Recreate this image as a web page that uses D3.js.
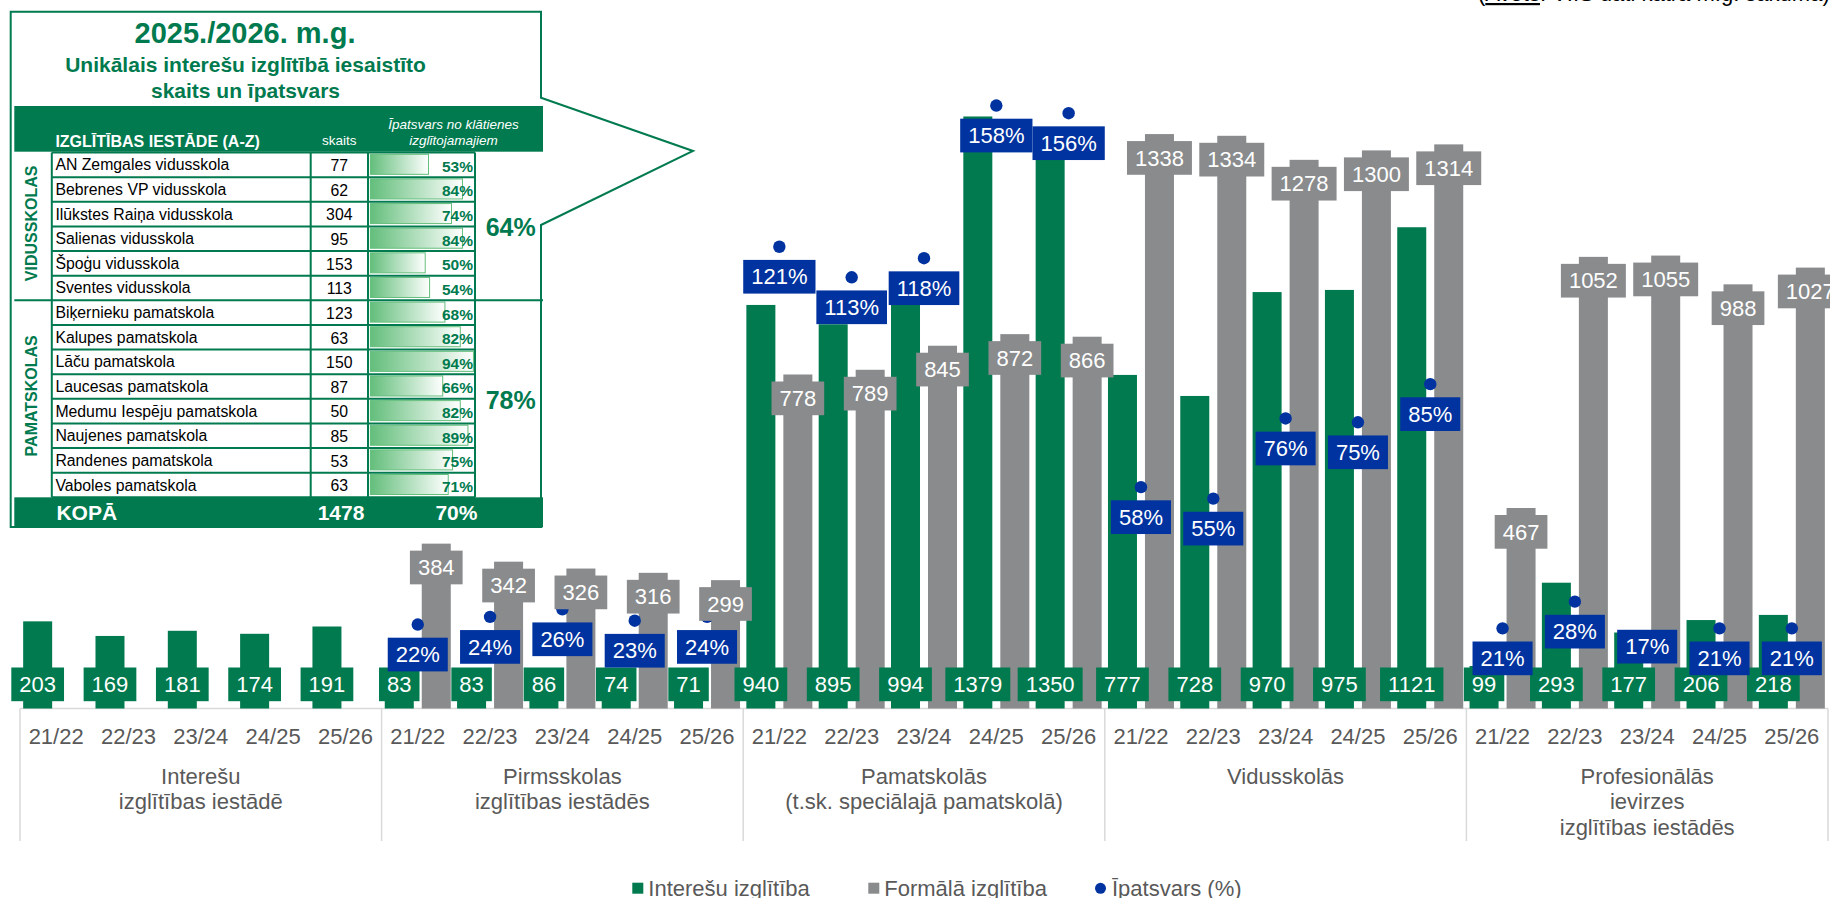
<!DOCTYPE html>
<html><head><meta charset="utf-8">
<script src="https://cdn.jsdelivr.net/npm/d3@7"></script>
<style>
body{margin:0;background:#fff;}
svg{display:block;font-family:"Liberation Sans",Arial,Helvetica,sans-serif;}
</style>
</head><body>
<svg id="chart" width="1830" height="898"></svg>
<script>
// ---------- DATA ----------
const years = ["21/22","22/23","23/24","24/25","25/26"];
const groupLabels = [
  ["Interešu","izglītības iestādē"],
  ["Pirmsskolas","izglītības iestādēs"],
  ["Pamatskolās","(t.sk. speciālajā pamatskolā)"],
  ["Vidusskolās"],
  ["Profesionālās","ievirzes","izglītības iestādēs"]
];
// Interešu izglītība (green), per group, per year
const interesuIzglitiba = [
  [203,169,181,174,191],
  [83,83,86,74,71],
  [940,895,994,1379,1350],
  [777,728,970,975,1121],
  [99,293,177,206,218]
];
// Formālā izglītība (gray)
const formalaIzglitiba = [
  [null,null,null,null,null],
  [384,342,326,316,299],
  [778,789,845,872,866],
  [1338,1334,1278,1300,1314],
  [467,1052,1055,988,1027]
];
// Īpatsvars (%)
const ipatsvars = [
  [null,null,null,null,null],
  [22,24,26,23,24],
  [121,113,118,158,156],
  [58,55,76,75,85],
  [21,28,17,21,21]
];
const legendLabels = ["Interešu izglītība","Formālā izglītība","Īpatsvars (%)"];

// Table data
const tableTitle = "2025./2026. m.g.";
const tableSubtitle = ["Unikālais interešu izglītībā iesaistīto","skaits un īpatsvars"];
const vidusSchools = ["AN Zemgales vidusskola","Bebrenes VP vidusskola","Ilūkstes Raiņa vidusskola","Salienas vidusskola","Špoģu vidusskola","Sventes vidusskola"];
const vidusCounts = [77,62,304,95,153,113];
const vidusShares = [53,84,74,84,50,54];
const pamatSchools = ["Biķernieku pamatskola","Kalupes pamatskola","Lāču pamatskola","Laucesas pamatskola","Medumu Iespēju pamatskola","Naujenes pamatskola","Randenes pamatskola","Vaboles pamatskola"];
const pamatCounts = [123,63,150,87,50,85,53,63];
const pamatShares = [68,82,94,66,82,89,75,71];
const groupShares = [64,78];
const totalCount = 1478;
const totalShare = 70;

// ---------- STYLE ----------
const GREEN = "#007A4E", GRAY = "#898B8D", BLUE = "#0033A0", AXIS = "#D9D9D9", TXT = "#595959";
const svg = d3.select("#chart");

// ---------- SCALES ----------
const baseY = 708.5, topY = 21.6;
const yL = d3.scaleLinear().domain([0,1600]).range([baseY, topY]);
const yR = d3.scaleLinear().domain([0,180]).range([baseY, topY]);
const gIdx = d3.range(groupLabels.length);
const x0 = d3.scaleBand().domain(gIdx).range([20,1828]);
const x1 = d3.scaleBand().domain(years).range([0, x0.bandwidth()]);
const x2 = d3.scaleBand().domain(["green","gray"]).range([0, x1.bandwidth()]).paddingInner(0.216).paddingOuter(0.0855);

const data = [];
gIdx.forEach(g => years.forEach((yr,i) => {
  data.push({g, yr, green: interesuIzglitiba[g][i], gray: formalaIzglitiba[g][i], pct: ipatsvars[g][i]});
}));
const slotX = d => x0(d.g) + x1(d.yr);
const cx = (d,k) => slotX(d) + x2(k) + x2.bandwidth()/2;
const slotC = d => slotX(d) + x1.bandwidth()/2;

// ---------- AXIS ----------
const ax = svg.append("g");
ax.append("line").attr("x1",x0.range()[0]).attr("x2",x0.range()[1]).attr("y1",baseY).attr("y2",baseY)
  .attr("stroke",AXIS).attr("stroke-width",1.5);
[...gIdx, gIdx.length].forEach(g => {
  const xx = g < gIdx.length ? x0(g) : x0.range()[1];
  ax.append("line").attr("x1",xx).attr("x2",xx).attr("y1",baseY).attr("y2",841)
    .attr("stroke",AXIS).attr("stroke-width",1.5);
});
ax.selectAll("text.yr").data(data).join("text").attr("class","yr")
  .attr("x", d => slotC(d)).attr("y",736).attr("dy","0.35em")
  .attr("text-anchor","middle").attr("font-size",22).attr("fill",TXT).text(d => d.yr);
gIdx.forEach(g => {
  groupLabels[g].forEach((ln,j) => {
    ax.append("text").attr("text-anchor","middle").attr("font-size",22).attr("fill",TXT)
      .attr("x", x0(g)+x0.bandwidth()/2).attr("y", 776 + j*25.7).attr("dy","0.35em").text(ln);
  });
});

// ---------- BARS ----------
const bw = x2.bandwidth();
svg.append("g").selectAll("rect").data(data).join("rect")
  .attr("x", d => slotX(d)+x2("green")).attr("width", bw)
  .attr("y", d => yL(d.green)).attr("height", d => baseY - yL(d.green)).attr("fill",GREEN);
svg.append("g").selectAll("rect").data(data.filter(d => d.gray != null)).join("rect")
  .attr("x", d => slotX(d)+x2("gray")).attr("width", bw)
  .attr("y", d => yL(d.gray)).attr("height", d => baseY - yL(d.gray)).attr("fill",GRAY);
const pdata = data.filter(d => d.pct != null);
svg.append("g").selectAll("circle").data(pdata).join("circle")
  .attr("cx", d => slotC(d)).attr("cy", d => yR(d.pct)).attr("r",6.2).attr("fill",BLUE);

// ---------- LABELS ----------
function boxLabel(parent, x, yc, txt, fill){
  const g = parent.append("g");
  const r = g.append("rect").attr("fill",fill);
  const t = g.append("text").attr("x",x).attr("y",yc).attr("dy","0.35em").attr("text-anchor","middle")
    .attr("font-size",22).attr("fill","#fff").text(txt);
  const w = t.node().getComputedTextLength() + 16;
  r.attr("x", x - w/2).attr("y", yc - 16.85).attr("width", w).attr("height", 33.7);
}
const LH = 33.7;
const lg = svg.append("g"), lgy = svg.append("g"), lp = svg.append("g");
data.forEach(d => boxLabel(lg, cx(d,"green"), baseY - 7.3 - LH/2, d.green, GREEN));
data.filter(d => d.gray != null).forEach(d => boxLabel(lgy, cx(d,"gray"), yL(d.gray) + 7 + LH/2, d.gray, GRAY));
pdata.forEach(d => {
  const yd = yR(d.pct);
  const below = yd + 30;
  const yc = (below + LH/2 > 685) ? yd + 3 : below;
  boxLabel(lp, slotC(d), yc, d.pct + "%", BLUE);
});

// ---------- LEGEND ----------
const leg = svg.append("g").attr("font-size",22).attr("fill",TXT);
const legX = [632.3, 868.3, 1100];
leg.append("rect").attr("x",legX[0]).attr("y",882.7).attr("width",11).attr("height",11).attr("fill",GREEN);
leg.append("rect").attr("x",legX[1]).attr("y",882.7).attr("width",11).attr("height",11).attr("fill",GRAY);
leg.append("circle").attr("cx",legX[2]+0.5).attr("cy",888.3).attr("r",5.5).attr("fill",BLUE);
leg.selectAll("text").data(legendLabels).join("text")
  .attr("x",(d,i) => legX[i] + (i<2 ? 16 : 12)).attr("y",888.3).attr("dy","0.35em").text(d => d);

// ---------- SOURCE (cut at top) ----------
const src = svg.append("text").attr("x",1478).attr("y",1).attr("font-size",22).attr("fill","#000");
src.append("tspan").text("(");
src.append("tspan").attr("text-decoration","underline").text("Avots");
src.append("tspan").text(": VIIS dati katra m.g. sākumā)");

// ---------- TABLE / CALLOUT ----------
const defs = svg.append("defs");
const grad = defs.append("linearGradient").attr("id","dbar").attr("x1","0").attr("x2","1").attr("y1","0").attr("y2","0");
grad.append("stop").attr("offset","0%").attr("stop-color","#63BE7B");
grad.append("stop").attr("offset","100%").attr("stop-color","#FFFFFF");

const tb = svg.append("g");
tb.append("path").attr("d","M10.7,11.7 H541 V97.7 L693,151 L541,225 V527 H10.7 Z")
  .attr("fill","#fff").attr("stroke",GREEN).attr("stroke-width",2);
tb.append("text").attr("x",245).attr("y",33).attr("dy","0.35em").attr("text-anchor","middle")
  .attr("font-size",29).attr("font-weight","bold").attr("fill",GREEN).text(tableTitle);
tableSubtitle.forEach((s,i) => tb.append("text").attr("x",245.5).attr("y",65 + i*25.7).attr("dy","0.35em")
  .attr("text-anchor","middle").attr("font-size",21).attr("font-weight","bold").attr("fill",GREEN).text(s));

const TL = 14.3, TR = 543;
tb.append("rect").attr("x",TL).attr("y",106).attr("width",TR-TL).attr("height",45.7).attr("fill",GREEN);
tb.append("text").attr("x",55.4).attr("y",141.5).attr("dy","0.35em").attr("font-size",16).attr("font-weight","bold")
  .attr("fill","#fff").text("IZGLĪTĪBAS IESTĀDE (A-Z)");
tb.append("text").attr("x",339.3).attr("y",140).attr("dy","0.35em").attr("text-anchor","middle").attr("font-size",13.5)
  .attr("fill","#fff").text("skaits");
tb.append("text").attr("x",453.6).attr("y",124).attr("dy","0.35em").attr("text-anchor","middle").attr("font-size",13.5)
  .attr("font-style","italic").attr("fill","#fff").text("Īpatsvars no klātienes");
tb.append("text").attr("x",453.6).attr("y",140.7).attr("dy","0.35em").attr("text-anchor","middle").attr("font-size",13.5)
  .attr("font-style","italic").attr("fill","#fff").text("izglītojamajiem");

const rows = vidusSchools.map((n,i) => ({n, c: vidusCounts[i], p: vidusShares[i]}))
  .concat(pamatSchools.map((n,i) => ({n, c: pamatCounts[i], p: pamatShares[i]})));
const rowTop = 152.5, rowH = 24.63;
const colName = 51.8, colCount = 310.7, colBar = 368, colEnd = 475;
const xb = d3.scaleLinear().domain([0,100]).range([370.4, 480]);
rows.forEach((r,i) => {
  const y0 = rowTop + i*rowH, yc = y0 + rowH/2;
  tb.append("rect").attr("x",xb(0)).attr("y",y0+1.8).attr("width",xb(r.p)-xb(0)).attr("height",rowH-4.6)
    .attr("fill","url(#dbar)").attr("stroke","#63BE7B").attr("stroke-width",1);
  tb.append("text").attr("x",55.4).attr("y",yc).attr("dy","0.35em").attr("font-size",15.8).attr("fill","#000").text(r.n);
  tb.append("text").attr("x",339.3).attr("y",yc+0.8).attr("dy","0.35em").attr("text-anchor","middle")
    .attr("font-size",15.8).attr("fill","#000").text(r.c);
  tb.append("text").attr("x",473).attr("y",yc+1.5).attr("dy","0.35em").attr("text-anchor","end")
    .attr("font-size",15.5).attr("font-weight","bold").attr("fill",GREEN).text(r.p + "%");
});
const nV = vidusSchools.length, nAll = rows.length;
const rowBottom = rowTop + nAll*rowH;
for (let i=0;i<=nAll;i++){
  const yy = rowTop + i*rowH;
  const full = (i === nV);
  tb.append("line").attr("x1", full ? TL : colName).attr("x2", full ? TR : colEnd).attr("y1",yy).attr("y2",yy)
    .attr("stroke",GREEN).attr("stroke-width",2);
}
[colName,colCount,colBar,colEnd].forEach(xx => tb.append("line").attr("x1",xx).attr("x2",xx)
  .attr("y1",rowTop).attr("y2",rowBottom).attr("stroke",GREEN).attr("stroke-width",2));
// group side labels
[["VIDUSSKOLAS",0,nV],["PAMATSKOLAS",nV,nAll]].forEach(([lab,a,b]) => {
  const yc = rowTop + (a+b)/2*rowH - 3;
  tb.append("text").attr("transform",`translate(31.4,${yc}) rotate(-90)`).attr("dy","0.35em")
    .attr("text-anchor","middle").attr("font-size",16).attr("font-weight","bold").attr("fill",GREEN).text(lab);
});
[[0,nV],[nV,nAll]].forEach(([a,b],k) => {
  tb.append("text").attr("x",510.7).attr("y",rowTop + (a+b)/2*rowH + 1).attr("dy","0.35em").attr("text-anchor","middle")
    .attr("font-size",25).attr("font-weight","bold").attr("fill",GREEN).text(groupShares[k] + "%");
});
// total row
tb.append("rect").attr("x",TL).attr("y",rowBottom).attr("width",TR-TL).attr("height",30).attr("fill",GREEN);
tb.append("text").attr("x",56.4).attr("y",rowBottom+15).attr("dy","0.35em").attr("font-size",21).attr("font-weight","bold")
  .attr("fill","#fff").text("KOPĀ");
tb.append("text").attr("x",341).attr("y",rowBottom+15).attr("dy","0.35em").attr("text-anchor","middle").attr("font-size",21)
  .attr("font-weight","bold").attr("fill","#fff").text(totalCount);
tb.append("text").attr("x",456.4).attr("y",rowBottom+15).attr("dy","0.35em").attr("text-anchor","middle").attr("font-size",21)
  .attr("font-weight","bold").attr("fill","#fff").text(totalShare + "%");
</script>
</body></html>
